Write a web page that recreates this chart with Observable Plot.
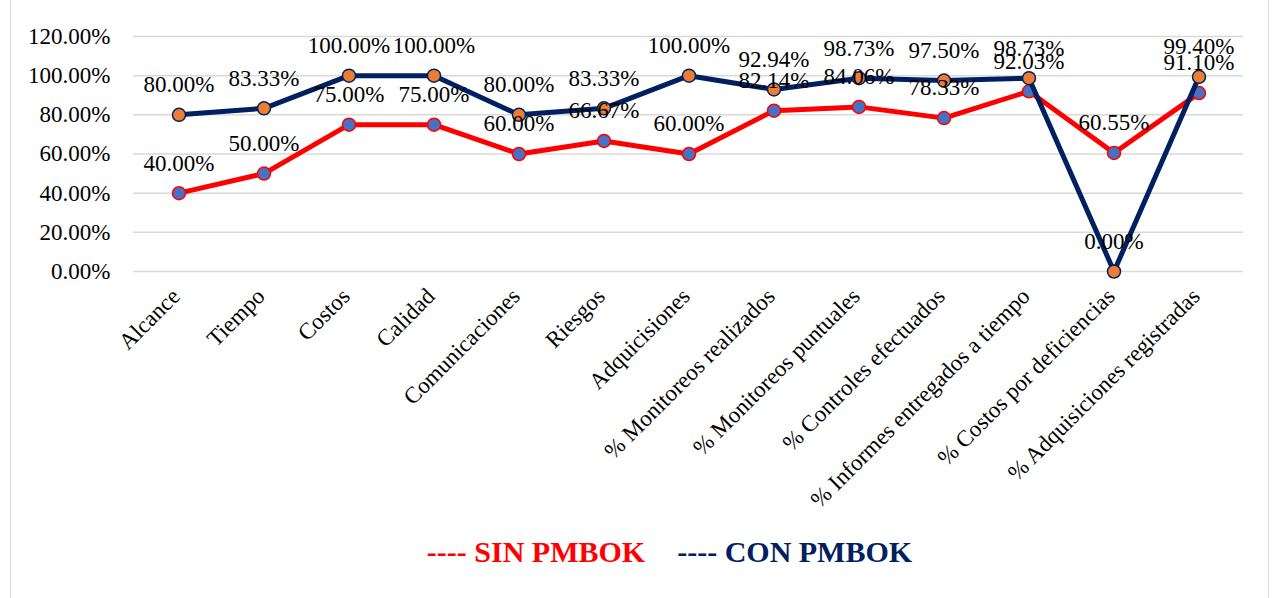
<!DOCTYPE html>
<html>
<head>
<meta charset="utf-8">
<script src="https://cdn.jsdelivr.net/npm/d3@7"></script>
<script src="https://cdn.jsdelivr.net/npm/@observablehq/plot@0.6"></script>
<style>
  html, body { margin: 0; padding: 0; background: #fff; }
  body { width: 1278px; height: 598px; position: relative; overflow: hidden; font-family: "Liberation Serif"; }
  #frame { position: absolute; left: 10px; top: -2px; width: 1259px; height: 610px; border: 1px solid #d9d9d9; box-sizing: border-box; pointer-events: none; }
  #chart { position: absolute; left: 0; top: 0; }
  #legend { position: absolute; left: 0; top: 535px; width: 1278px; box-sizing: border-box; padding-left: 61px; display: flex; justify-content: center; gap: 32px; font-weight: bold; font-size: 30px; font-family: "Liberation Serif"; }
</style>
</head>
<body>
<div id="chart"></div>
<div id="legend"></div>
<div id="frame"></div>
<script>
const categories = ["Alcance", "Tiempo", "Costos", "Calidad", "Comunicaciones", "Riesgos", "Adquicisiones",
  "% Monitoreos realizados", "% Monitoreos puntuales", "% Controles efectuados",
  "% Informes entregados a tiempo", "% Costos por deficiencias", "% Adquisiciones registradas"];
const sinPmbok = [40.00, 50.00, 75.00, 75.00, 60.00, 66.67, 60.00, 82.14, 84.06, 78.33, 92.03, 60.55, 91.10];
const conPmbok = [80.00, 83.33, 100.00, 100.00, 80.00, 83.33, 100.00, 92.94, 98.73, 97.50, 98.73, 0.00, 99.40];
const yTicks = [0, 20, 40, 60, 80, 100, 120];
const seriesNames = ["SIN PMBOK", "CON PMBOK"];
const lineColors = ["#FF0000", "#002060"];
const markerColors = ["#4472C4", "#ED7D31"];

const sinData = categories.map((c, i) => ({cat: c, v: sinPmbok[i]}));
const conData = categories.map((c, i) => ({cat: c, v: conPmbok[i]}));
const allData = sinData.concat(conData);
const fmt = v => v.toFixed(2) + "%";
const FF = "Liberation Serif";

const plot = Plot.plot({
  width: 1278,
  height: 525,
  marginTop: 36,
  marginBottom: 254,
  marginLeft: 133,
  marginRight: 35,
  style: {fontFamily: FF, fontSize: "23px", color: "#000", background: "transparent", overflow: "visible"},
  x: {type: "band", domain: categories, padding: 0, align: 0.5, label: null},
  y: {domain: [0, 120], ticks: yTicks, label: null},
  marks: [
    Plot.gridY(yTicks, {stroke: "#d9d9d9", strokeOpacity: 1, strokeWidth: 1.5}),
    Plot.axisY(yTicks, {tickSize: 0, tickPadding: 23, tickFormat: fmt, fontSize: 23, fontFamily: FF, fill: "#000"}),
    Plot.axisX({tickSize: 0, tickRotate: -45, tickPadding: 21, dx: -3, fontSize: 23, fontFamily: FF, fill: "#000"}),
    Plot.line(sinData, {x: "cat", y: "v", stroke: lineColors[0], strokeWidth: 5}),
    Plot.dot(sinData, {x: "cat", y: "v", r: 6.5, fill: markerColors[0], stroke: lineColors[0], strokeWidth: 1.5}),
    Plot.line(conData, {x: "cat", y: "v", stroke: lineColors[1], strokeWidth: 5}),
    Plot.dot(conData, {x: "cat", y: "v", r: 6.5, fill: markerColors[1], stroke: lineColors[1], strokeWidth: 1.5}),
    Plot.text(allData, {x: "cat", y: "v", text: d => fmt(d.v), dy: -30, fontSize: 23, fontFamily: FF, fill: "#000"})
  ]
});
document.getElementById("chart").appendChild(plot);

const legend = document.getElementById("legend");
seriesNames.forEach((n, i) => {
  const s = document.createElement("span");
  s.textContent = "---- " + n;
  s.style.color = lineColors[i];
  legend.appendChild(s);
});
</script>
</body>
</html>
